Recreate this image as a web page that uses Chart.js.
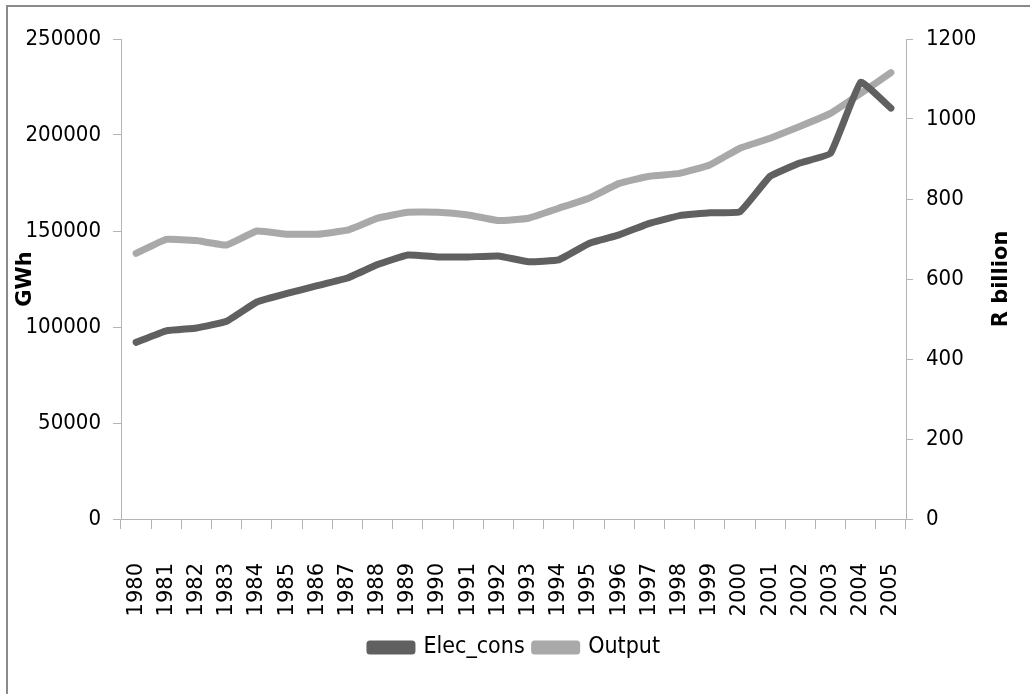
<!DOCTYPE html>
<html lang="en">
<head>
  <meta charset="UTF-8" />
  <title>Electricity consumption and output</title>
  <script src="https://cdn.jsdelivr.net/npm/chart.js"></script>
  <style>
    html, body { margin: 0; padding: 0; background: #fff; }
    #wrap { position: relative; width: 1030px; height: 694px; overflow: hidden; }
    #frame {
      position: absolute; left: 6px; top: 5px; width: 1100px; height: 800px;
      border-left: 2px solid #8a8a8a; border-top: 2px solid #8a8a8a;
    }
    canvas { position: absolute; left: 0; top: 0; }
  </style>
</head>
<body>
<div id="wrap">
  <div id="frame"></div>
  <canvas id="lineChart" width="1030" height="694"></canvas>
</div>

<script>
  const years = ['1980','1981','1982','1983','1984','1985','1986','1987','1988','1989',
                 '1990','1991','1992','1993','1994','1995','1996','1997','1998','1999',
                 '2000','2001','2002','2003','2004','2005'];

  // GWh, left axis
  const elecCons = [92000, 98000, 99500, 103000, 113000, 117500, 121500, 125500, 132500, 137500,
                    136500, 136500, 137000, 134000, 135000, 143500, 148000, 154000, 158000, 159500,
                    160000, 178500, 185500, 190500, 227500, 214000];

  // R billion, right axis
  const output = [664, 699, 696, 685, 720, 712, 712, 722, 752, 767,
                  767, 760, 746, 752, 777, 802, 839, 857, 864, 885,
                  927, 952, 982, 1014, 1064, 1116];

  const leftTicks = [0, 50000, 100000, 150000, 200000, 250000];
  const rightTicks = [0, 200, 400, 600, 800, 1000, 1200];

  const narrow = '"DejaVu Sans Condensed", "Liberation Sans Narrow", sans-serif';
  const axisGrey = '#b4b4b4';

  // rotated axis titles, both reading bottom to top
  const axisTitles = {
    id: 'axisTitles',
    afterDraw(chart) {
      const ctx = chart.ctx;
      const area = chart.chartArea;
      const midY = (area.top + area.bottom) / 2;
      ctx.save();
      ctx.fillStyle = '#000';
      ctx.font = 'bold 21px "DejaVu Sans", sans-serif';
      ctx.textAlign = 'center';
      ctx.textBaseline = 'middle';
      [[26, 'GWh'], [1002, 'R billion']].forEach(([x, txt]) => {
        ctx.save();
        ctx.translate(x, midY);
        ctx.rotate(-Math.PI / 2);
        ctx.fillText(txt, 0, 0);
        ctx.restore();
      });
      ctx.restore();
    }
  };

  const plain = v => String(v);

  const ctx = document.getElementById('lineChart').getContext('2d');
  new Chart(ctx, {
    type: 'line',
    data: {
      labels: years,
      datasets: [{
        label: 'Elec_cons',
        data: elecCons,
        yAxisID: 'y',
        borderColor: '#606060',
        backgroundColor: '#606060',
        borderWidth: 7,
        pointRadius: 0,
        tension: 0.1,
        borderJoinStyle: 'round',
        borderCapStyle: 'round'
      }, {
        label: 'Output',
        data: output,
        yAxisID: 'y1',
        borderColor: '#a9a9a9',
        backgroundColor: '#a9a9a9',
        borderWidth: 7,
        pointRadius: 0,
        tension: 0.1,
        borderJoinStyle: 'round',
        borderCapStyle: 'round'
      }]
    },
    options: {
      responsive: false,
      devicePixelRatio: 1,
      animation: false,
      layout: { padding: { top: 39, left: 0, right: 0, bottom: 25 } },
      plugins: {
        tooltip: { enabled: false },
        legend: {
          position: 'bottom',
          labels: {
            color: '#000',
            font: { family: narrow, size: 23 },
            boxWidth: 42,
            boxHeight: 7,
            padding: 10
          }
        }
      },
      scales: {
        x: {
          offset: true,
          grid: { offset: true, drawOnChartArea: false, tickLength: 10, color: axisGrey },
          border: { color: axisGrey },
          ticks: {
            color: '#000',
            autoSkip: false,
            minRotation: 90,
            maxRotation: 90,
            padding: 34,
            font: { family: '"DejaVu Sans", sans-serif', size: 21 }
          },
          afterFit(scale) { scale.height = 107; }
        },
        y: {
          position: 'left',
          min: 0,
          max: 250000,
          afterBuildTicks(scale) { scale.ticks = leftTicks.map(v => ({ value: v })); },
          grid: { drawOnChartArea: false, tickLength: 8, color: axisGrey },
          border: { color: axisGrey },
          ticks: { color: '#000', padding: 12, font: { family: narrow, size: 22 }, callback: plain },
          afterFit(scale) { scale.width = 121; }
        },
        y1: {
          position: 'right',
          min: 0,
          max: 1200,
          afterBuildTicks(scale) { scale.ticks = rightTicks.map(v => ({ value: v })); },
          grid: { drawOnChartArea: false, tickLength: 7, color: axisGrey },
          border: { color: axisGrey },
          ticks: { color: '#000', padding: 13, font: { family: narrow, size: 22 }, callback: plain },
          afterFit(scale) { scale.width = 124; }
        }
      }
    },
    plugins: [axisTitles]
  });
</script>
</body>
</html>
